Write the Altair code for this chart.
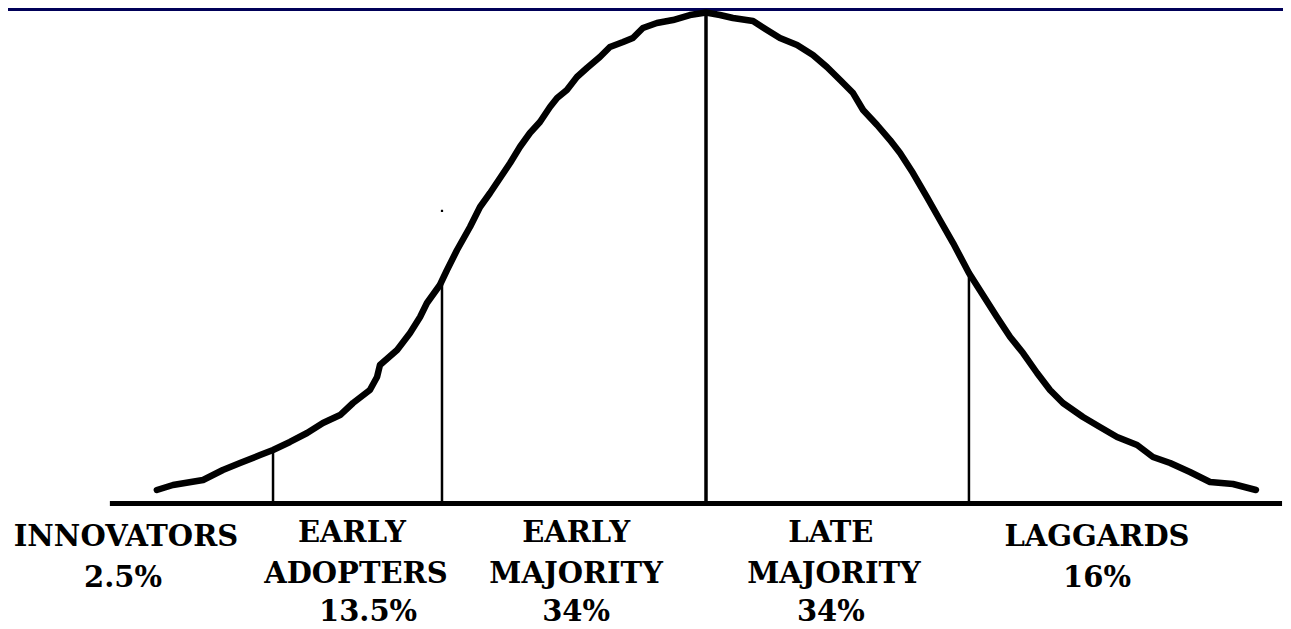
import altair as alt
import pandas as pd

# Bell curve of adopter categories, x in standard deviations from the mean,
# y in % of the peak height
curve_sd = [-2.080, -2.019, -1.905, -1.830, -1.765, -1.689, -1.640, -1.576, -1.511, -1.451,
            -1.386, -1.337, -1.273, -1.246, -1.235, -1.170, -1.121, -1.083, -1.057, -1.008,
            -0.981, -0.943, -0.894, -0.856, -0.818, -0.780, -0.742, -0.705, -0.667, -0.629,
            -0.591, -0.564, -0.527, -0.489, -0.451, -0.402, -0.364, -0.314, -0.277, -0.239,
            -0.186, -0.125, -0.061, 0.000, 0.053, 0.102, 0.178, 0.231, 0.280, 0.345,
            0.405, 0.458, 0.508, 0.557, 0.595, 0.648, 0.697, 0.735, 0.784, 0.837,
            0.886, 0.936, 0.996, 1.049, 1.102, 1.152, 1.201, 1.254, 1.303, 1.352,
            1.428, 1.492, 1.557, 1.633, 1.693, 1.758, 1.833, 1.909, 1.996, 2.083]
curve_h = [2.75, 3.77, 4.79, 6.82, 8.25, 9.88, 10.90, 12.53, 14.36, 16.40,
           18.02, 20.47, 23.12, 25.76, 28.21, 31.26, 34.73, 37.98, 40.84, 44.50,
           47.56, 51.63, 56.31, 60.39, 63.24, 66.29, 69.35, 72.61, 75.46, 77.70,
           80.75, 82.59, 84.22, 86.86, 88.70, 90.94, 92.97, 93.99, 94.81, 96.84,
           97.86, 98.47, 99.49, 100.0, 99.49, 98.88, 98.27, 96.44, 94.81, 93.38,
           91.34, 88.90, 86.25, 83.60, 80.14, 77.09, 74.03, 71.38, 67.31, 62.42,
           57.74, 53.05, 46.95, 42.46, 37.98, 33.91, 30.65, 26.58, 23.12, 20.47,
           17.62, 15.58, 13.54, 11.91, 9.47, 8.25, 6.42, 4.38, 3.97, 2.75]

# category boundaries (vertical dividers) and where they meet the curve
side_sd = [-1.640, -1.000, 0.996]
side_h = [10.9, 44.9, 46.5]
mean_sd = [0.0]
mean_h = [100.0]

# horizontal axis line extent
axis_sd = [-2.258, 2.182]

# stray pixel in the original drawing
dot_sd = [-1.0]
dot_h = [59.6]

# category labels, one entry per text line
label_text = ["INNOVATORS", "2.5%",
              "EARLY", "ADOPTERS", "13.5%",
              "EARLY", "MAJORITY", "34%",
              "LATE", "MAJORITY", "34%",
              "LAGGARDS", "16%"]
label_sd = [-2.197, -2.208,
            -1.341, -1.326, -1.280,
            -0.492, -0.492, -0.492,
            0.473, 0.485, 0.473,
            1.481, 1.481]
label_h = [-8.66, -17.01,
           -7.84, -16.19, -23.93,
           -7.84, -16.19, -23.93,
           -7.84, -16.19, -23.93,
           -8.66, -17.01]

W, H = 1275, 621
xs = alt.Scale(domain=[-2.6439, 2.1856], nice=False, zero=False)
ys = alt.Scale(domain=[-25.56, 100.92], nice=False, zero=False)

curve_df = pd.DataFrame({"sd": curve_sd, "h": curve_h})
side_df = pd.DataFrame({"sd": side_sd, "h": side_h, "h0": [0.0] * len(side_sd)})
mean_df = pd.DataFrame({"sd": mean_sd, "h": mean_h, "h0": [0.0]})
axis_df = pd.DataFrame({"sd": [axis_sd[0]], "sd2": [axis_sd[1]], "h": [0.0]})
dot_df = pd.DataFrame({"sd": dot_sd, "h": dot_h})
label_df = pd.DataFrame({"text": label_text, "sd": label_sd, "h": label_h})

X = alt.X("sd:Q", scale=xs, axis=None)
Y = alt.Y("h:Q", scale=ys, axis=None)

top_bar = alt.Chart(axis_df).mark_rule(color="#000058", strokeWidth=3).encode(
    x=alt.value(0), x2=alt.value(W), y=alt.value(1.5)
)

baseline = alt.Chart(axis_df).mark_rule(color="black", strokeWidth=5).encode(
    x=X, x2="sd2:Q", y=Y
)

sides = alt.Chart(side_df).mark_rule(color="black", strokeWidth=2.5).encode(
    x=X, y=Y, y2="h0:Q"
)

mean_line = alt.Chart(mean_df).mark_rule(color="black", strokeWidth=3.5).encode(
    x=X, y=Y, y2="h0:Q"
)

curve = alt.Chart(curve_df).mark_line(
    color="black", strokeWidth=6.5, strokeCap="round", strokeJoin="round"
).encode(x=X, y=Y)

dot = alt.Chart(dot_df).mark_square(color="black", size=5, opacity=1).encode(x=X, y=Y)

labels = alt.Chart(label_df).mark_text(
    font="DejaVu Serif", fontSize=29, fontWeight="bold", color="black",
    align="center", baseline="alphabetic"
).encode(x=X, y=Y, text="text:N")

chart = alt.layer(top_bar, baseline, sides, mean_line, curve, dot, labels).properties(
    width=W, height=H, padding=0, autosize=alt.AutoSizeParams(type="none"),
    background="white"
).configure_view(stroke=None)

chart.save("out.html", embed_options={"renderer": "svg", "actions": False})
